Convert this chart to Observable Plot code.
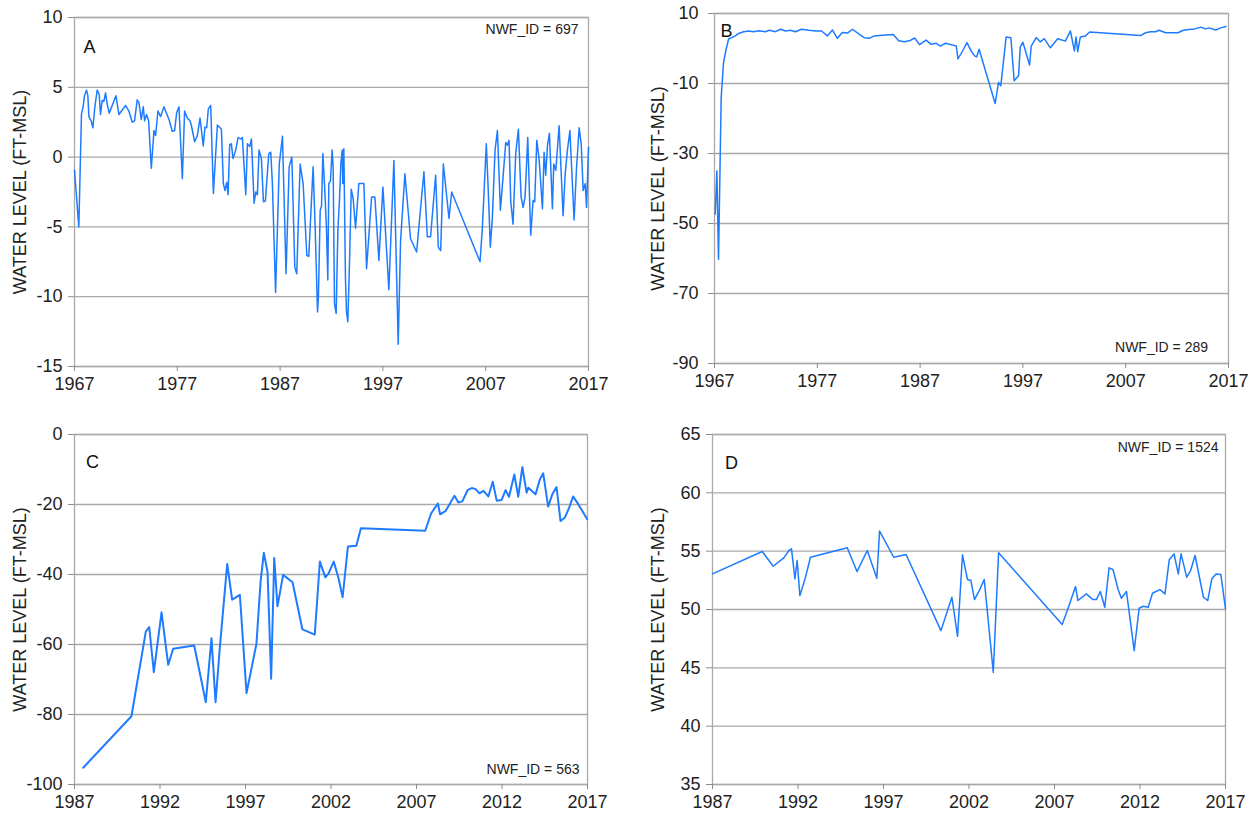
<!DOCTYPE html>
<html><head><meta charset="utf-8">
<script src="https://cdn.jsdelivr.net/npm/d3@7"></script>
<script src="https://cdn.jsdelivr.net/npm/@observablehq/plot@0.6"></script>
<style>
html,body{margin:0;padding:0;background:#fff;overflow:hidden;width:1255px;height:815px}
.panel{position:absolute}
</style></head><body>
<div id="pA" class="panel" style="left:0;top:0"></div>
<div id="pB" class="panel" style="left:640px;top:0"></div>
<div id="pC" class="panel" style="left:0;top:420px"></div>
<div id="pD" class="panel" style="left:640px;top:420px"></div>
<script>
// [decimal year, water level (ft-MSL)]
const wellA = [[1967.00,-0.95],[1967.42,-5.0],[1967.68,3.1],[1967.84,3.6],[1967.97,4.4],[1968.17,4.8],[1968.30,4.4],[1968.40,2.9],[1968.62,2.6],[1968.79,2.1],[1968.98,3.6],[1969.21,4.8],[1969.40,4.5],[1969.53,3.05],[1969.69,4.05],[1969.86,4.0],[1970.02,4.6],[1970.18,3.8],[1970.38,3.15],[1970.77,3.9],[1971.03,4.4],[1971.32,3.05],[1971.97,3.7],[1972.29,3.3],[1972.62,2.5],[1972.84,2.6],[1973.10,4.1],[1973.27,3.9],[1973.49,2.7],[1973.69,3.6],[1973.82,2.6],[1974.01,3.05],[1974.21,2.6],[1974.47,-0.8],[1974.73,1.9],[1974.89,1.55],[1975.12,3.3],[1975.38,2.9],[1975.70,3.6],[1975.86,3.3],[1976.19,2.7],[1976.51,1.85],[1976.74,1.9],[1976.94,3.2],[1977.16,3.6],[1977.49,-1.55],[1977.71,3.3],[1977.97,2.8],[1978.23,2.6],[1978.36,2.3],[1978.69,1.1],[1978.95,1.55],[1979.21,2.8],[1979.53,0.8],[1979.69,2.15],[1979.86,2.1],[1980.02,3.45],[1980.25,3.7],[1980.51,-2.6],[1980.90,2.3],[1981.29,2.0],[1981.48,-1.9],[1981.64,-2.4],[1981.81,-1.8],[1981.94,-2.7],[1982.10,0.9],[1982.26,0.95],[1982.42,-0.1],[1982.68,0.5],[1982.91,1.4],[1983.17,1.3],[1983.33,1.4],[1983.66,-2.7],[1983.82,0.95],[1984.05,0.75],[1984.21,1.3],[1984.47,-3.3],[1984.63,-2.5],[1984.79,-2.7],[1984.95,0.5],[1985.18,-0.1],[1985.38,-3.2],[1985.57,-3.15],[1985.90,0.25],[1986.09,0.35],[1986.25,-1.9],[1986.56,-9.7],[1986.92,-0.5],[1987.23,1.5],[1987.58,-8.35],[1987.88,-0.7],[1988.14,0.0],[1988.43,-7.9],[1988.62,-8.35],[1988.95,-0.5],[1989.24,-1.9],[1989.60,-7.05],[1989.79,-7.1],[1990.21,-0.7],[1990.41,-5.0],[1990.64,-11.1],[1990.73,-10.0],[1990.90,-3.8],[1991.03,-3.5],[1991.16,0.25],[1991.35,-2.4],[1991.51,-5.1],[1991.64,-8.8],[1991.74,-1.9],[1991.90,-1.7],[1992.06,0.5],[1992.16,-0.7],[1992.29,-10.5],[1992.45,-11.2],[1992.62,-5.25],[1992.78,-3.0],[1992.91,-0.5],[1993.04,0.5],[1993.10,-1.9],[1993.20,0.6],[1993.36,-8.8],[1993.46,-11.1],[1993.59,-11.8],[1993.75,-7.6],[1993.92,-2.3],[1994.11,-3.0],[1994.34,-5.1],[1994.66,-1.9],[1995.15,-1.9],[1995.41,-8.0],[1995.90,-2.85],[1996.22,-2.85],[1996.61,-7.4],[1997.00,-2.15],[1997.58,-9.5],[1998.07,-0.25],[1998.49,-13.4],[1998.72,-6.0],[1999.14,-1.2],[1999.69,-5.85],[2000.28,-6.8],[2000.99,-1.05],[2001.32,-5.7],[2001.64,-5.7],[2002.13,-1.3],[2002.39,-6.45],[2002.62,-6.7],[2002.88,-0.5],[2003.43,-4.4],[2003.69,-2.5],[2006.45,-7.5],[2006.68,-5.0],[2007.06,0.95],[2007.26,-2.6],[2007.45,-6.45],[2007.65,-4.3],[2007.91,0.5],[2008.14,1.9],[2008.43,-3.8],[2008.69,-1.4],[2008.95,1.05],[2009.11,0.85],[2009.27,1.2],[2009.44,-3.2],[2009.66,-4.8],[2009.92,0.25],[2010.18,2.0],[2010.44,-2.85],[2010.64,-3.6],[2010.83,-2.85],[2011.09,1.4],[2011.38,-5.6],[2011.61,-3.1],[2011.77,-3.2],[2011.97,1.2],[2012.19,-0.1],[2012.52,-3.7],[2012.68,0.35],[2012.84,-1.3],[2013.01,0.85],[2013.20,1.7],[2013.49,-3.7],[2013.62,-0.5],[2013.82,-0.95],[2014.14,2.25],[2014.53,-4.2],[2014.73,-1.2],[2014.95,0.5],[2015.19,1.9],[2015.60,-4.5],[2015.83,-0.85],[2016.09,2.1],[2016.29,0.95],[2016.48,-2.4],[2016.68,-1.9],[2016.81,-3.6],[2017.00,0.7]];

const wellB = [[1967.07,-47.3],[1967.23,-35],[1967.39,-60.2],[1967.65,-14],[1967.88,-4],[1968.11,-0.5],[1968.37,2.7],[1968.69,3.1],[1969.02,3.6],[1969.35,4.3],[1969.83,4.8],[1970.32,5.0],[1970.81,4.8],[1971.30,5.1],[1971.95,4.8],[1972.34,5.2],[1972.93,4.8],[1973.42,5.5],[1973.91,5.0],[1974.39,5.2],[1974.88,4.8],[1975.47,5.5],[1976.19,5.2],[1976.84,5.0],[1977.42,5.0],[1977.98,3.6],[1978.47,5.3],[1978.95,2.9],[1979.44,4.6],[1979.93,4.4],[1980.42,5.5],[1981.07,4.1],[1981.56,3.1],[1982.05,2.9],[1982.54,3.6],[1983.35,3.8],[1984.39,4.0],[1984.92,2.2],[1985.47,1.9],[1985.96,2.2],[1986.47,3.0],[1986.94,1.1],[1987.59,2.4],[1988.08,1.2],[1988.57,1.5],[1988.96,0.7],[1989.48,1.5],[1990.03,1.1],[1990.52,0.7],[1990.68,-3.0],[1991.17,-0.5],[1991.56,1.7],[1992.0,-0.9],[1992.3,-2.1],[1992.5,-2.4],[1992.74,-0.2],[1994.30,-15.7],[1994.63,-9.7],[1994.85,-10.7],[1995.37,3.3],[1995.83,3.1],[1996.15,-9.2],[1996.58,-7.8],[1996.74,0.4],[1997.00,1.8],[1997.65,-4.7],[1997.81,0.7],[1998.30,3.1],[1998.69,1.9],[1999.08,2.8],[1999.67,0.2],[2000.38,2.8],[2001.13,2.1],[2001.62,5.0],[2002.01,-0.7],[2002.17,3.3],[2002.33,-0.9],[2002.59,3.3],[2003.08,3.6],[2003.50,4.7],[2008.45,3.7],[2008.93,4.5],[2009.42,4.8],[2009.91,4.8],[2010.24,5.2],[2010.89,4.5],[2011.54,4.5],[2012.09,4.5],[2012.61,5.2],[2013.16,5.4],[2013.72,5.6],[2014.30,6.1],[2014.79,5.6],[2015.11,5.9],[2015.76,5.3],[2016.24,5.9],[2016.74,6.3]];

const wellC = [[1987.51,-95.2],[1990.33,-80.5],[1991.17,-56.3],[1991.37,-55.0],[1991.64,-67.9],[1992.09,-50.8],[1992.48,-65.8],[1992.77,-61.2],[1994.00,-60.3],[1994.68,-76.5],[1995.01,-58.2],[1995.25,-76.5],[1995.50,-60.8],[1995.93,-37.0],[1996.22,-47.2],[1996.67,-45.8],[1997.06,-73.9],[1997.64,-59.8],[1997.88,-42.2],[1998.07,-33.8],[1998.29,-39.3],[1998.50,-69.8],[1998.68,-35.3],[1998.87,-49.1],[1999.20,-40.1],[1999.75,-42.2],[2000.33,-55.7],[2001.05,-57.2],[2001.35,-36.3],[2001.67,-40.8],[2001.86,-39.7],[2002.16,-36.3],[2002.45,-41.3],[2002.68,-46.5],[2002.99,-32.0],[2003.48,-31.8],[2003.75,-26.8],[2007.51,-27.5],[2007.86,-22.5],[2008.25,-19.7],[2008.38,-22.8],[2008.71,-21.8],[2009.22,-17.5],[2009.45,-19.4],[2009.68,-19.1],[2010.00,-15.8],[2010.23,-15.3],[2010.46,-15.6],[2010.68,-16.8],[2010.91,-16.1],[2011.20,-17.7],[2011.46,-13.5],[2011.69,-18.9],[2011.98,-18.7],[2012.21,-15.9],[2012.41,-17.8],[2012.72,-11.4],[2012.95,-17.8],[2013.19,-9.3],[2013.44,-16.6],[2013.54,-15.2],[2013.96,-17.1],[2014.22,-12.8],[2014.41,-11.1],[2014.70,-20.6],[2014.94,-17.1],[2015.19,-15.0],[2015.42,-24.7],[2015.68,-23.7],[2015.93,-20.9],[2016.16,-17.7],[2016.46,-19.9],[2016.75,-22.3],[2016.98,-24.2]];

const wellD = [[1987.00,53.05],[1989.91,54.97],[1990.55,53.71],[1991.17,54.43],[1991.47,55.06],[1991.62,55.2],[1991.82,52.63],[1991.95,54.2],[1992.11,51.19],[1992.44,52.77],[1992.73,54.48],[1994.88,55.29],[1995.45,53.25],[1996.05,55.06],[1996.61,52.68],[1996.77,56.72],[1997.60,54.48],[1998.32,54.71],[2000.36,48.19],[2001.0,51.05],[2001.33,47.7],[2001.62,54.69],[2001.91,52.57],[2002.11,52.48],[2002.32,50.85],[2002.60,51.62],[2002.89,52.57],[2003.42,44.61],[2003.73,54.86],[2007.45,48.71],[2007.78,50.05],[2008.23,51.97],[2008.37,50.77],[2008.86,51.34],[2009.25,50.85],[2009.45,50.85],[2009.68,51.54],[2009.94,50.19],[2010.19,53.57],[2010.42,53.43],[2010.72,51.71],[2010.91,50.97],[2011.21,51.54],[2011.66,46.47],[2011.95,50.11],[2012.19,50.28],[2012.48,50.19],[2012.73,51.39],[2013.16,51.71],[2013.46,51.34],[2013.71,54.26],[2013.99,54.77],[2014.24,53.05],[2014.40,54.77],[2014.73,52.77],[2014.96,53.34],[2015.22,54.63],[2015.71,51.05],[2015.96,50.77],[2016.20,52.63],[2016.45,53.05],[2016.73,52.99],[2017.00,50.05]];

const yTicksA = [10, 5, 0, -5, -10, -15];
const yTicksB = [10, -10, -30, -50, -70, -90];
const yTicksC = [0, -20, -40, -60, -80, -100];
const yTicksD = [65, 60, 55, 50, 45, 40, 35];
const xTicksTop = [1967, 1977, 1987, 1997, 2007, 2017];
const xTicksBottom = [1987, 1992, 1997, 2002, 2007, 2012, 2017];
const panelLetters = ["A", "B", "C", "D"];
const wellIds = ["NWF_ID = 697", "NWF_ID = 289", "NWF_ID = 563", "NWF_ID = 1524"];
const yTitle = "WATER LEVEL (FT-MSL)";

const GRID = "#a9a9a9";
const BLUE = "#1e7bff";

function panel(o) {
  const data = o.well.map(([t, v]) => ({t, v}));
  const yt = o.yTicks;
  const chart = Plot.plot({
    width: 600, height: 400,
    marginLeft: o.m[0], marginRight: o.m[1], marginTop: o.m[2], marginBottom: o.m[3],
    style: {fontFamily: "'Liberation Sans', Arial, sans-serif", fontSize: "18px", color: "#222", background: "#fff", overflow: "visible"},
    x: {type: "linear", domain: [o.xTicks[0], o.xTicks[o.xTicks.length - 1]]},
    y: {type: "linear", domain: [yt[yt.length - 1], yt[0]]},
    marks: [
      Plot.gridY({ticks: yt, stroke: GRID, strokeOpacity: 1, strokeWidth: 1.3}),
      Plot.frame({stroke: GRID, strokeWidth: 1.3}),
      Plot.axisY({ticks: yt, tickSize: 6, tickPadding: o.tickPad, stroke: "#8c8c8c", strokeOpacity: 1,
        tickFormat: d => String(d), label: yTitle, labelAnchor: "center", labelOffset: o.labelOffset, labelArrow: "none"}),
      Plot.axisX({ticks: o.xTicks, tickSize: 5, tickPadding: 6, stroke: "#8c8c8c", strokeOpacity: 1,
        tickFormat: d => String(d), label: null}),
      Plot.line(data, {x: "t", y: "v", stroke: BLUE, strokeWidth: o.lineW, strokeLinejoin: "round"}),
      Plot.text([panelLetters[o.idx]], {text: d => d, frameAnchor: "top-left", lineAnchor: "top", textAnchor: "start",
        dx: o.letter[0], dy: o.letter[1], fontSize: 18, fill: "#111"}),
      Plot.text([wellIds[o.idx]], {text: d => d, frameAnchor: "top-right", lineAnchor: "top", textAnchor: "end",
        dx: o.id[0], dy: o.id[1], fontSize: 14, fill: "#222"})
    ]
  });
  document.getElementById(o.el).append(chart);
}

panel({el: "pA", idx: 0, well: wellA, xTicks: xTicksTop, yTicks: yTicksA, m: [74, 12, 17, 34], tickPad: 6, labelOffset: 61, lineW: 1.5, letter: [9, 23], id: [-10, 7]});
panel({el: "pB", idx: 1, well: wellB, xTicks: xTicksTop, yTicks: yTicksB, m: [74, 12, 13, 37], tickPad: 10, labelOffset: 63, lineW: 1.5, letter: [6, 10.5], id: [-20.5, 329]});
panel({el: "pC", idx: 2, well: wellC, xTicks: xTicksBottom, yTicks: yTicksC, m: [74, 13, 14, 36], tickPad: 6, labelOffset: 61, lineW: 2, letter: [11.5, 21], id: [-8, 330]});
panel({el: "pD", idx: 3, well: wellD, xTicks: xTicksBottom, yTicks: yTicksD, m: [72, 15, 14, 36], tickPad: 6, labelOffset: 61, lineW: 1.5, letter: [12.5, 21.5], id: [-7, 7.5]});
</script>
</body></html>
